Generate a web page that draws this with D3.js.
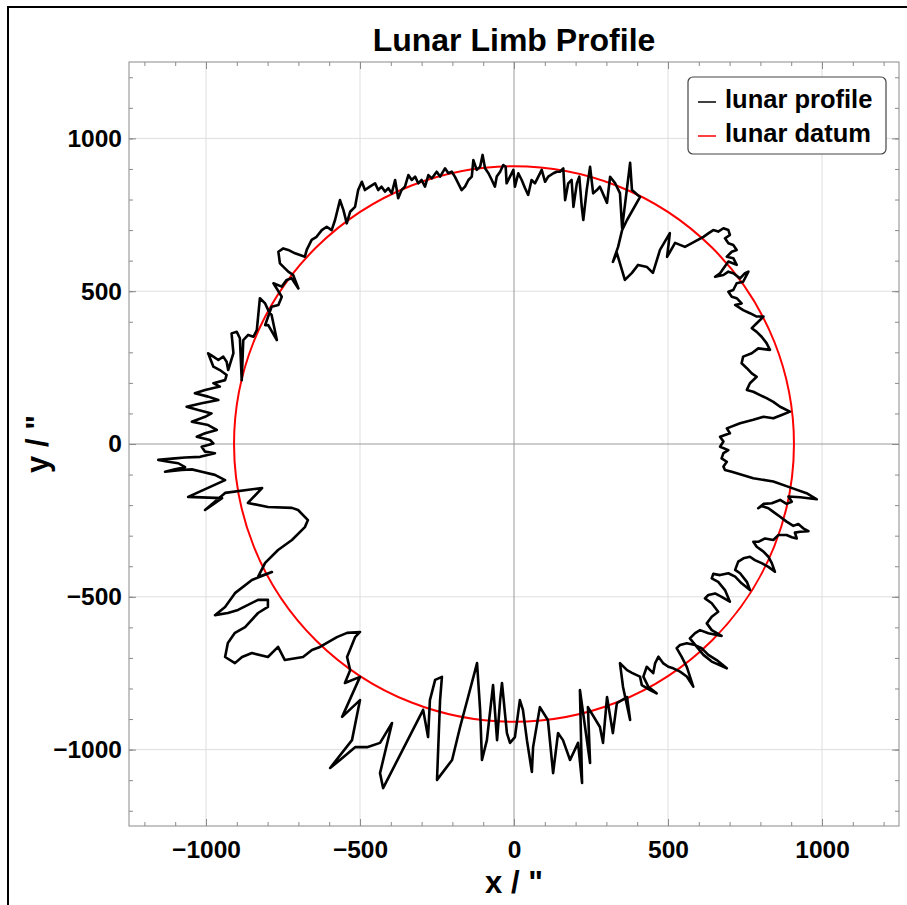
<!DOCTYPE html>
<meta charset="utf-8">
<style>
body { margin: 0; background: #fff; }
text { font-family: "Liberation Sans", Arial, sans-serif; font-weight: bold; fill: #000; }
</style>
<body>
<script src="https://d3js.org/d3.v7.min.js"></script>
<script>

// limb profile [x, y] in arcsec, clockwise starting top-left
const profile = [
  // top
  [-441,831], [-430,842], [-419,826], [-408,837], [-397,820], [-386,864], [-376,804], [-365,831], [-354,842], [-343,880],
  [-332,864], [-321,875], [-311,853], [-300,864], [-289,842], [-278,880], [-267,869], [-251,891], [-240,875], [-224,902],
  [-213,886], [-202,891], [-192,875], [-181,853], [-170,831], [-159,842], [-148,864], [-137,875], [-132,929], [-121,897],
  [-110,907], [-102,946], [-94,902], [-83,886], [-72,864], [-62,842], [-56,875], [-45,891], [-35,913], [-27,907],
  [-24,853], [-13,875], [-2,897], [3,842], [14,886], [25,864], [36,837], [46,815], [57,864], [68,853],
  [79,875], [90,897], [101,858], [111,875], [128,886], [139,891], [149,891], [160,902], [166,798], [176,853],
  [187,864], [193,776], [204,853], [212,875], [220,776], [225,733], [236,831], [247,907], [257,820], [269,831], [279,842],
  // upper right notch
  [302,789], [312,874], [328,854], [344,821], [351,707], [377,920], [383,831], [409,808], [367,733], [351,700],
  [338,645], [321,596], [334,625], [360,537], [383,560], [403,586], [432,579], [451,560], [474,635], [506,690],
  [497,612], [523,658], [555,645],
  // right upper arc
  [615,678], [631,689], [647,700], [663,695], [680,706], [696,700], [701,684], [685,673], [696,657], [712,651],
  [723,635], [707,629], [691,613], [712,608], [723,586], [696,597], [669,559], [653,547], [680,553], [696,564],
  [712,559], [734,542], [750,559], [761,564], [744,531], [723,526], [712,504], [696,498], [707,482], [723,477],
  [739,460], [718,455], [744,438], [766,428], [788,417], [810,417], [788,395], [772,379], [788,367], [804,351],
  [820,330], [831,308], [793,313], [772,297], [744,286], [739,264], [756,248], [772,231], [788,220], [766,199],
  [756,177], [777,171], [799,160], [820,150], [842,138], [864,122], [896,106], [869,95], [842,84], [810,89],
  [777,79], [734,68],
  // right flat
  [691,51], [701,35], [669,24], [680,8], [669,-9], [696,-20], [680,-30], [674,-47], [691,-58], [680,-74],
  [685,-85], [707,-91],
  // right lower arc
  [777,-112], [842,-123], [896,-142], [950,-161], [983,-181], [929,-174], [891,-172], [902,-189], [885,-196], [864,-183],
  [837,-194], [810,-196], [793,-210], [804,-203], [826,-210], [842,-222], [864,-238], [885,-254], [907,-268], [923,-262],
  [939,-276], [956,-285], [929,-287], [912,-290], [918,-309], [902,-305], [885,-298], [858,-298], [842,-314], [815,-309],
  [793,-320], [777,-320], [788,-336], [810,-352], [826,-369], [837,-390], [847,-418], [826,-402], [804,-390], [782,-380],
  [766,-369], [745,-374], [728,-385], [718,-412], [734,-423], [756,-451], [766,-478], [739,-456], [718,-434], [696,-423],
  [669,-429], [647,-425], [642,-440], [663,-451], [685,-478], [701,-516], [674,-500], [653,-489], [631,-494], [620,-505],
  [642,-521], [663,-549], [642,-565], [626,-587], [642,-609], [674,-628], [631,-619], [604,-609], [588,-619], [571,-636],
  [593,-663], [615,-690], [642,-712], [691,-734], [658,-707], [631,-690], [609,-668], [588,-658], [561,-652], [539,-658],
  [528,-668], [544,-696], [561,-729], [582,-794], [561,-761], [539,-745], [517,-734], [501,-729], [485,-718], [469,-696],
  [458,-718], [452,-750], [442,-740], [431,-729], [420,-761], [436,-794], [463,-816], [442,-805], [415,-789], [409,-761],
  // bottom
  [383,-749], [367,-740], [344,-717], [354,-795], [377,-903], [367,-828], [334,-848], [321,-946], [302,-828], [289,-978],
  [279,-926], [240,-861], [247,-1044], [214,-805], [221,-1109], [208,-978], [182,-1034], [159,-969], [143,-946], [127,-1077],
  [110,-903], [84,-861], [62,-992], [58,-1073], [42,-969], [29,-870], [19,-838], [3,-959], [-13,-978], [-23,-946],
  [-39,-782], [-45,-838], [-55,-969], [-68,-789], [-88,-969], [-104,-1034], [-110,-870], [-120,-717], [-149,-828], [-175,-926],
  [-201,-1034], [-250,-1099], [-240,-838], [-234,-762], [-256,-772], [-273,-838], [-279,-959], [-295,-870], [-425,-1126], [-435,-1077],
  [-396,-913], [-435,-978], [-477,-992], [-516,-992], [-565,-1034], [-597,-1060], [-526,-969], [-500,-838], [-558,-893], [-500,-762],
  [-549,-782], [-532,-740], [-542,-697], [-516,-632], [-500,-615], [-542,-618], [-575,-632],
  // lower left
  [-630,-664], [-656,-674], [-685,-697], [-744,-707], [-766,-664], [-799,-697], [-851,-684], [-883,-697], [-906,-717], [-938,-697],
  [-929,-651], [-906,-618], [-873,-599], [-831,-553], [-799,-533], [-799,-510], [-831,-510], [-896,-543], [-929,-553], [-971,-560],
  [-938,-533], [-906,-488], [-851,-445], [-786,-419], [-831,-435], [-808,-389], [-766,-347], [-721,-314], [-679,-272], [-669,-249],
  [-701,-216], [-721,-209], [-799,-206], [-864,-193], [-818,-144], [-938,-160], [-1003,-216], [-948,-177], [-1058,-173], [-938,-118],
  // left
  [-971,-101], [-1014,-91], [-1046,-83], [-1079,-85], [-1133,-91], [-1101,-83], [-1068,-76], [-1090,-63], [-1122,-58], [-1155,-52],
  [-1101,-47], [-1068,-44], [-1019,-42], [-971,-30], [-1003,-25], [-1014,-9], [-976,2], [-987,13], [-1030,24], [-1003,35],
  [-965,46], [-993,62], [-1046,73], [-1003,89], [-982,100], [-1025,111], [-1063,122], [-1014,133], [-960,144], [-993,155],
  [-1036,166], [-1003,177], [-955,188], [-976,199], [-938,209],
  // upper left arc
  [-933,226], [-955,242], [-976,253], [-993,297], [-976,286], [-960,275], [-944,286], [-933,269], [-928,242], [-911,297],
  [-917,362], [-900,367], [-890,346], [-884,209], [-879,340], [-863,357], [-846,351], [-835,373], [-825,477], [-808,460],
  [-798,438], [-787,422], [-770,340], [-798,389], [-808,389], [-787,449], [-765,455], [-754,482], [-781,526], [-754,515],
  [-738,537], [-722,542], [-700,509], [-717,553], [-733,564], [-760,591], [-765,629], [-749,640], [-733,635], [-711,624],
  [-679,613], [-673,635], [-657,668], [-641,678], [-624,700], [-608,711], [-592,700], [-581,733], [-565,798], [-554,766],
  [-543,722], [-532,760], [-516,776], [-506,831], [-494,858], [-484,831], [-468,842], [-451,853]
];

// lunar datum radius (arcsec)
const datumRadius = [909];

// axis ticks
const majorTicks = [-1000, -500, 0, 500, 1000];
const minorTicks = d3.range(-1200, 1201, 100);
const seriesNames = ["lunar profile", "lunar datum"];
const seriesColors = ["#000000", "#ff0000"];

const W = 907, H = 905;
const plot = {left: 129, right: 899, top: 62, bottom: 826};

const svg = d3.select("body").append("svg")
    .attr("width", W).attr("height", H);

svg.append("rect").attr("width", W).attr("height", H).attr("fill", "#fff");

// outer border (only top and left edges fall inside the picture)
svg.append("rect")
    .attr("x", 8).attr("y", 7).attr("width", W + 20).attr("height", H + 20)
    .attr("fill", "none").attr("stroke", "#000").attr("stroke-width", 2);

const x = d3.scaleLinear().domain([-1250, 1250]).range([plot.left, plot.right]);
const y = d3.scaleLinear().domain([-1250, 1250]).range([plot.bottom, plot.top]);

// grid
const grid = svg.append("g");
grid.selectAll(".gx").data(majorTicks.filter(d => d !== 0)).enter().append("line")
    .attr("x1", d => x(d)).attr("x2", d => x(d))
    .attr("y1", plot.top).attr("y2", plot.bottom)
    .attr("stroke", "#dedede").attr("stroke-width", 1);
grid.selectAll(".gy").data(majorTicks.filter(d => d !== 0)).enter().append("line")
    .attr("y1", d => y(d)).attr("y2", d => y(d))
    .attr("x1", plot.left).attr("x2", plot.right)
    .attr("stroke", "#dedede").attr("stroke-width", 1);
// zero axes
grid.append("line")
    .attr("x1", x(0)).attr("x2", x(0)).attr("y1", plot.top).attr("y2", plot.bottom)
    .attr("stroke", "#9a9a9a");
grid.append("line")
    .attr("y1", y(0)).attr("y2", y(0)).attr("x1", plot.left).attr("x2", plot.right)
    .attr("stroke", "#9a9a9a");

// axes on all four sides, ticks pointing inward
function styleAxis(g) {
  g.select(".domain").remove();
  g.selectAll(".tick line").attr("stroke", "#8a8a8a");
}
const fmt = d3.format("d");
svg.append("g").attr("transform", `translate(0,${plot.bottom})`)
    .call(d3.axisBottom(x).tickValues(minorTicks).tickSize(-4).tickFormat(""))
    .call(styleAxis);
svg.append("g").attr("transform", `translate(0,${plot.bottom})`)
    .call(d3.axisBottom(x).tickValues(majorTicks).tickSize(-7).tickPadding(15).tickFormat(fmt))
    .call(styleAxis);
svg.append("g").attr("transform", `translate(0,${plot.top})`)
    .call(d3.axisTop(x).tickValues(minorTicks).tickSize(-4).tickFormat(""))
    .call(styleAxis);
svg.append("g").attr("transform", `translate(0,${plot.top})`)
    .call(d3.axisTop(x).tickValues(majorTicks).tickSize(-7).tickFormat(""))
    .call(styleAxis);
svg.append("g").attr("transform", `translate(${plot.left},0)`)
    .call(d3.axisLeft(y).tickValues(minorTicks).tickSize(-4).tickFormat(""))
    .call(styleAxis);
svg.append("g").attr("transform", `translate(${plot.left},0)`)
    .call(d3.axisLeft(y).tickValues(majorTicks).tickSize(-7).tickPadding(7).tickFormat(fmt))
    .call(styleAxis);
svg.append("g").attr("transform", `translate(${plot.right},0)`)
    .call(d3.axisRight(y).tickValues(minorTicks).tickSize(-4).tickFormat(""))
    .call(styleAxis);
svg.append("g").attr("transform", `translate(${plot.right},0)`)
    .call(d3.axisRight(y).tickValues(majorTicks).tickSize(-7).tickFormat(""))
    .call(styleAxis);

svg.selectAll(".tick text").attr("fill", "#000").style("font-size", "24.5px")
    .style("font-family", "'Liberation Sans', Arial, sans-serif").style("font-weight", "bold");

// frame
svg.append("rect")
    .attr("x", plot.left).attr("y", plot.top)
    .attr("width", plot.right - plot.left).attr("height", plot.bottom - plot.top)
    .attr("fill", "none").attr("stroke", "#8a8a8a");

// lunar datum
svg.append("ellipse")
    .attr("cx", x(0)).attr("cy", y(0))
    .attr("rx", x(datumRadius[0]) - x(0))
    .attr("ry", y(0) - y(datumRadius[0]))
    .attr("fill", "none").attr("stroke", seriesColors[1]).attr("stroke-width", 2);

// lunar profile
const line = d3.line().x(d => x(d[0])).y(d => y(d[1])).curve(d3.curveLinearClosed);
svg.append("path").datum(profile)
    .attr("d", line)
    .attr("fill", "none").attr("stroke", seriesColors[0])
    .attr("stroke-width", 2.6).attr("stroke-linejoin", "round");

// title and axis labels
svg.append("text").attr("x", 514).attr("y", 51).attr("text-anchor", "middle")
    .style("font-size", "32px").text("Lunar Limb Profile");
svg.append("text").attr("x", 514).attr("y", 893).attr("text-anchor", "middle")
    .style("font-size", "31px").text('x / "');
svg.append("text").attr("transform", "translate(48,444) rotate(-90)")
    .attr("text-anchor", "middle").style("font-size", "31px").text('y / "');

// legend
const lg = svg.append("g").attr("transform", "translate(688,77)");
lg.append("rect").attr("width", 198).attr("height", 77).attr("rx", 5)
    .attr("fill", "#fff").attr("stroke", "#444").attr("stroke-width", 1.2);
seriesNames.forEach((name, i) => {
  lg.append("line").attr("x1", 10).attr("x2", 28)
      .attr("y1", 25 + i * 34).attr("y2", 25 + i * 34)
      .attr("stroke", seriesColors[i]).attr("stroke-width", 1.5);
  lg.append("text").attr("x", 37).attr("y", 31 + i * 34)
      .style("font-size", "25.5px").text(name);
});

</script>
</body>
